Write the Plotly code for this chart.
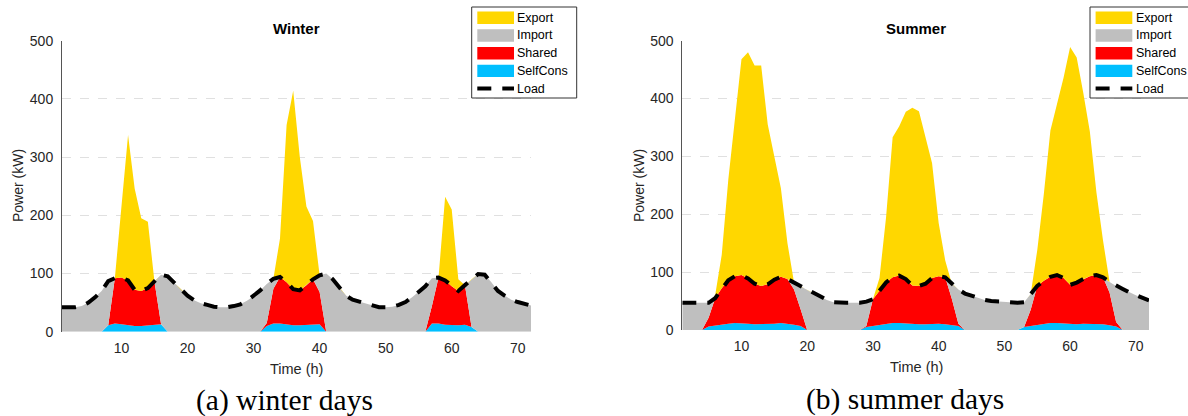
import plotly.graph_objects as go

W, H = 1188, 416
hours = list(range(1, 73))

# ---------------- Winter (kW, hourly, 3 days) ----------------
winter_load = [
    42, 42, 42, 44, 50, 59, 70, 87, 92, 93, 88, 72, 70, 75, 86, 98, 95, 84, 72, 62, 54, 49, 46, 43,
    42, 42, 44, 47, 53, 61, 71, 82, 91, 94, 85, 73, 71, 80, 90, 97, 100, 90, 75, 62, 55, 52, 49, 45,
    42, 42, 43, 46, 51, 59, 68, 78, 92, 93, 88, 78, 70, 80, 90, 99, 98, 85, 70, 62, 55, 51, 48, 45,
]
winter_selfcons = [
    0, 0, 0, 0, 0, 0, 0, 11, 14, 13, 11, 10, 10, 11, 13, 13, 0, 0, 0, 0, 0, 0, 0, 0,
    0, 0, 0, 0, 0, 0, 0, 10, 14, 14, 12, 11, 11, 12, 13, 13, 0, 0, 0, 0, 0, 0, 0, 0,
    0, 0, 0, 0, 0, 0, 0, 0, 14, 14, 12, 11, 11, 12, 8, 0, 0, 0, 0, 0, 0, 0, 0, 0,
]
winter_shared = [
    0, 0, 0, 0, 0, 0, 0, 0, 78, 80, 77, 62, 60, 64, 73, 0, 0, 0, 0, 0, 0, 0, 0, 0,
    0, 0, 0, 0, 0, 0, 0, 5, 60, 80, 73, 62, 60, 68, 77, 55, 0, 0, 0, 0, 0, 0, 0, 0,
    0, 0, 0, 0, 0, 0, 0, 0, 30, 79, 76, 67, 59, 68, 0, 0, 0, 0, 0, 0, 0, 0, 0, 0,
]
winter_import = [
    42, 42, 42, 44, 50, 59, 70, 76, 0, 0, 0, 0, 0, 0, 0, 85, 95, 84, 72, 62, 54, 49, 46, 43,
    42, 42, 44, 47, 53, 61, 71, 67, 17, 0, 0, 0, 0, 0, 0, 29, 100, 90, 75, 62, 55, 52, 49, 45,
    42, 42, 43, 46, 51, 59, 68, 78, 48, 0, 0, 0, 0, 0, 82, 99, 98, 85, 70, 62, 55, 51, 48, 45,
]
winter_export = [
    0, 0, 0, 0, 0, 0, 0, 0, 0, 122, 250, 174, 125, 114, 0, 0, 0, 0, 0, 0, 0, 0, 0, 0,
    0, 0, 0, 0, 0, 0, 0, 0, 0, 66, 270, 341, 229, 135, 100, 0, 0, 0, 0, 0, 0, 0, 0, 0,
    0, 0, 0, 0, 0, 0, 0, 0, 0, 0, 144, 132, 20, 0, 0, 0, 0, 0, 0, 0, 0, 0, 0, 0,
]

# ---------------- Summer (kW, hourly, 3 days) ----------------
summer_load = [
    47, 47, 47, 47, 47, 55, 72, 86, 93, 95, 89, 80, 76, 79, 87, 92, 88, 82, 75, 69, 63, 57, 52, 48,
    47, 47, 47, 47, 49, 53, 68, 82, 91, 94, 88, 77, 76, 80, 90, 93, 91, 80, 70, 63, 59, 55, 52, 50,
    49, 48, 47, 47, 48, 62, 76, 85, 92, 95, 90, 78, 82, 88, 93, 95, 91, 83, 76, 71, 65, 60, 55, 51,
]
summer_selfcons = [
    0, 0, 0, 0, 6, 8, 10, 11, 12, 12, 11, 10, 10, 10, 11, 12, 11, 9, 7, 0, 0, 0, 0, 0,
    0, 0, 0, 0, 5, 7, 9, 11, 12, 12, 11, 10, 10, 10, 11, 11, 10, 9, 7, 0, 0, 0, 0, 0,
    0, 0, 0, 0, 5, 7, 9, 11, 12, 12, 11, 10, 10, 11, 11, 11, 10, 8, 6, 0, 0, 0, 0, 0,
]
summer_shared = [
    0, 0, 0, 0, 15, 47, 62, 75, 81, 83, 78, 70, 66, 69, 76, 80, 77, 61, 29, 0, 0, 0, 0, 0,
    0, 0, 0, 0, 2, 46, 59, 71, 79, 82, 77, 67, 66, 70, 79, 82, 81, 45, 4, 0, 0, 0, 0, 0,
    0, 0, 0, 0, 0, 28, 67, 74, 80, 83, 79, 68, 72, 77, 82, 84, 81, 57, 8, 0, 0, 0, 0, 0,
]
summer_import = [
    47, 47, 47, 47, 26, 0, 0, 0, 0, 0, 0, 0, 0, 0, 0, 0, 0, 12, 39, 69, 63, 57, 52, 48,
    47, 47, 47, 47, 42, 0, 0, 0, 0, 0, 0, 0, 0, 0, 0, 0, 0, 26, 59, 63, 59, 55, 52, 50,
    49, 48, 47, 47, 43, 27, 0, 0, 0, 0, 0, 0, 0, 0, 0, 0, 0, 18, 62, 71, 65, 60, 55, 51,
]
summer_export = [
    0, 0, 0, 0, 0, 5, 58, 174, 267, 373, 391, 377, 381, 276, 213, 153, 62, 0, 0, 0, 0, 0, 0, 0,
    0, 0, 0, 0, 0, 0, 22, 113, 242, 258, 289, 307, 302, 255, 198, 92, 29, 0, 0, 0, 0, 0, 0, 0,
    0, 0, 0, 0, 0, 0, 62, 150, 253, 297, 346, 411, 389, 322, 250, 143, 64, 0, 0, 0, 0, 0, 0, 0,
]

x_ticks = [10, 20, 30, 40, 50, 60, 70]
y_ticks = [0, 100, 200, 300, 400, 500]
legend_names = ["Export", "Import", "Shared", "SelfCons", "Load"]

COLORS = {
    "SelfCons": "#00BFFF",
    "Shared": "#FF0000",
    "Import": "#BFBFBF",
    "Export": "#FFD700",
}
SANS = "Liberation Sans, Arial, Helvetica, sans-serif"
SERIF = "Liberation Serif, Times New Roman, serif"
LOAD_DASH = "14px,11px"

fig = go.Figure()


def add_season(xa, ya, group, selfcons, shared, imp, export, load):
    for name, vals in (("SelfCons", selfcons), ("Shared", shared),
                       ("Import", imp), ("Export", export)):
        fig.add_trace(go.Scatter(
            x=hours, y=vals, name=name, mode="lines", stackgroup=group,
            line=dict(width=0, color=COLORS[name]), fillcolor=COLORS[name],
            xaxis=xa, yaxis=ya, showlegend=False,
        ))
    fig.add_trace(go.Scatter(
        x=hours, y=load, name="Load", mode="lines",
        line=dict(color="black", width=4, dash=LOAD_DASH),
        xaxis=xa, yaxis=ya, showlegend=False,
    ))


add_season("x", "y", "winter", winter_selfcons, winter_shared,
           winter_import, winter_export, winter_load)
add_season("x2", "y2", "summer", summer_selfcons, summer_shared,
           summer_import, summer_export, summer_load)


def px_x(v):
    return v / W


def px_y(v):
    return 1 - v / H


xaxis_style = dict(
    range=[1, 72], tickvals=x_ticks, showgrid=False, zeroline=False,
    showline=False, ticks="", ticklabelstandoff=6,
    tickfont=dict(family=SANS, size=14, color="#262626"),
)
yaxis_style = dict(
    range=[0, 500], tickvals=y_ticks, showgrid=True, gridcolor="#e0e0e0",
    griddash="dash", gridwidth=1, zeroline=False, showline=True,
    linecolor="#555555", linewidth=1, ticks="", ticklabelstandoff=5,
    tickfont=dict(family=SANS, size=14, color="#262626"),
)

fig.update_layout(
    width=W, height=H, autosize=False,
    margin=dict(l=0, r=0, t=0, b=0, autoexpand=False),
    paper_bgcolor="white", plot_bgcolor="white",
    showlegend=False,
    xaxis=dict(domain=[px_x(62), px_x(531)], anchor="y", **xaxis_style),
    yaxis=dict(domain=[px_y(331.7), px_y(40.7)], anchor="x", **yaxis_style),
    xaxis2=dict(domain=[px_x(682.3), px_x(1149)], anchor="y2", **xaxis_style),
    yaxis2=dict(domain=[px_y(330), px_y(40.7)], anchor="x2", **yaxis_style),
)

# Legend boxes (one per panel), in pixel positions of the figure
shapes = []
annotations = []


def add_legend_box(left):
    shapes.append(dict(
        type="rect", xref="paper", yref="paper",
        x0=px_x(left), x1=px_x(left + 105), y0=px_y(98), y1=px_y(7),
        line=dict(color="#333333", width=1), fillcolor="white", layer="above",
    ))
    for i, name in enumerate(legend_names):
        cy = 17.8 + 17.7 * i
        if name == "Load":
            shapes.append(dict(
                type="line", xref="paper", yref="paper",
                x0=px_x(left + 5.6), x1=px_x(left + 42.3), y0=px_y(cy), y1=px_y(cy),
                line=dict(color="black", width=4, dash=LOAD_DASH), layer="above",
            ))
        else:
            shapes.append(dict(
                type="rect", xref="paper", yref="paper",
                x0=px_x(left + 5.6), x1=px_x(left + 42.3),
                y0=px_y(cy + 6.2), y1=px_y(cy - 6.2),
                line=dict(width=0), fillcolor=COLORS[name], layer="above",
            ))
        annotations.append(dict(
            text=name, x=px_x(left + 43.5), y=px_y(cy), xref="paper", yref="paper",
            xanchor="left", yanchor="middle", showarrow=False,
            font=dict(family=SANS, size=12.5, color="black"),
        ))


add_legend_box(471.7)
add_legend_box(1090)

labels = [
    ("<b>Winter</b>", 296.5, 29, 15, SANS, 0, "black"),
    ("<b>Summer</b>", 915.7, 29, 15, SANS, 0, "black"),
    ("Power (kW)", 18, 186, 14, SANS, -90, "#262626"),
    ("Power (kW)", 639, 186, 14, SANS, -90, "#262626"),
    ("Time (h)", 296, 369, 14.5, SANS, 0, "#262626"),
    ("Time (h)", 916, 367, 14.5, SANS, 0, "#262626"),
    ("(a) winter days", 284, 400, 29.5, SERIF, 0, "black"),
    ("(b) summer days", 904.5, 399, 29.5, SERIF, 0, "black"),
]
for text, ax, ay, size, family, angle, color in labels:
    annotations.append(dict(
        text=text, x=px_x(ax), y=px_y(ay), xref="paper", yref="paper",
        xanchor="center", yanchor="middle", showarrow=False, textangle=angle,
        font=dict(family=family, size=size, color=color),
    ))

fig.update_layout(shapes=shapes, annotations=annotations)

fig.write_html("out.html")
